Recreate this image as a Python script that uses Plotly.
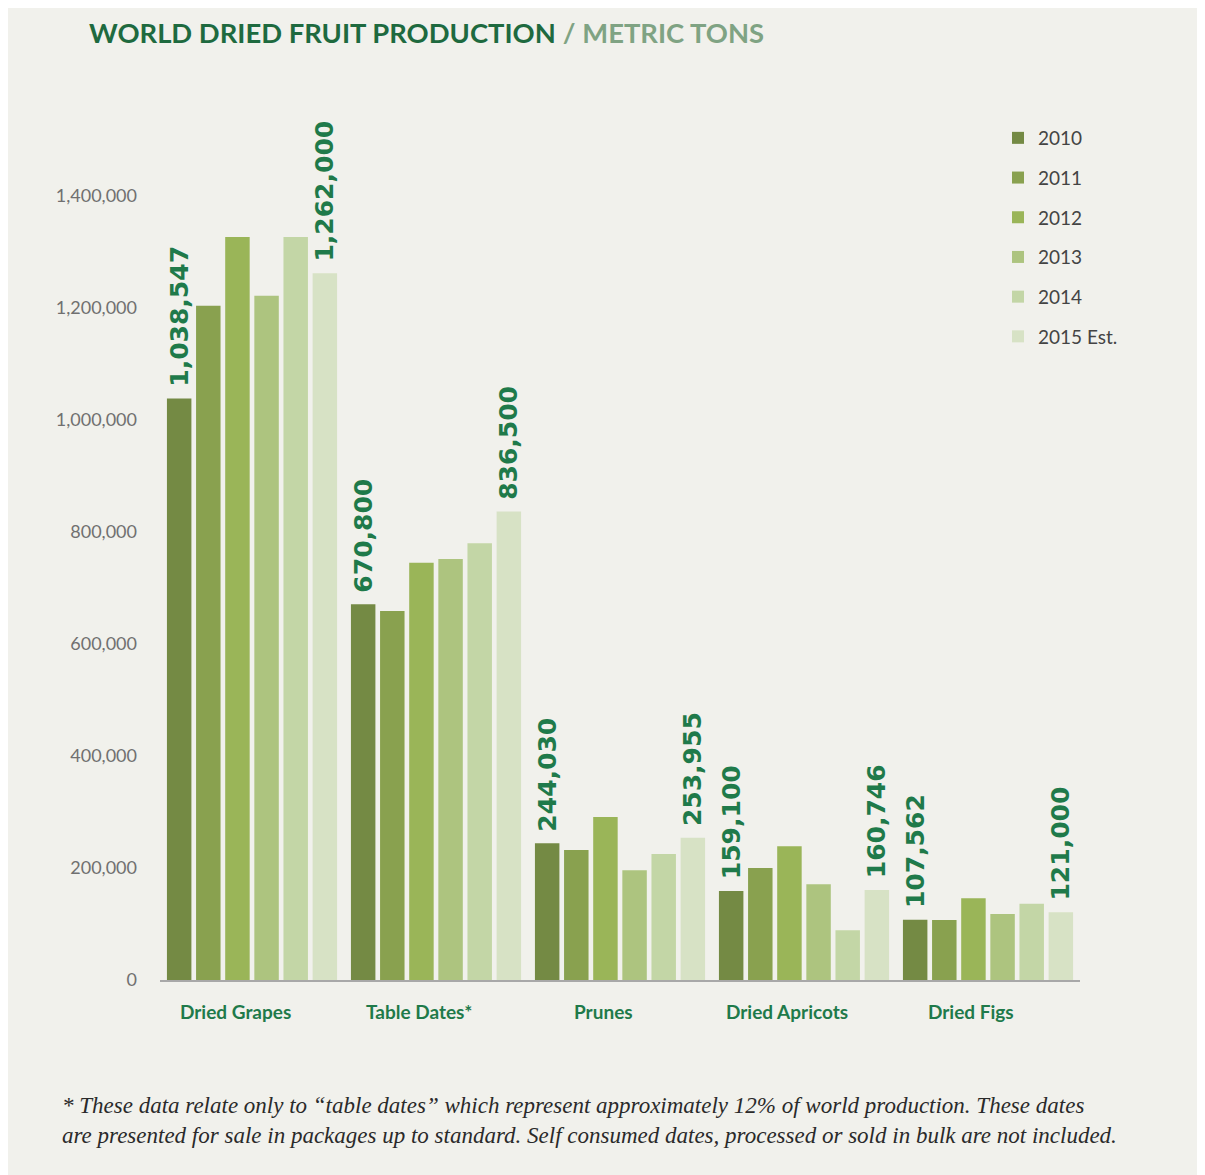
import plotly.graph_objects as go

categories = ["Dried Grapes", "Table Dates*", "Prunes", "Dried Apricots", "Dried Figs"]
years = ["2010", "2011", "2012", "2013", "2014", "2015 Est."]
v2010 = [1038547, 670800, 244030, 159100, 107562]
v2011 = [1204000, 659000, 232000, 200000, 107000]
v2012 = [1327000, 745000, 291000, 239000, 146000]
v2013 = [1222000, 752000, 196000, 171000, 118000]
v2014 = [1327000, 780000, 225000, 89000, 136000]
v2015 = [1262000, 836500, 253955, 160746, 121000]
series = [v2010, v2011, v2012, v2013, v2014, v2015]
colors = ["#748a44", "#89a14f", "#9ab558", "#adc47f", "#c3d6a6", "#d7e2c5"]
labelled = {0, 5}
y_ticks = [0, 200000, 400000, 600000, 800000, 1000000, 1200000, 1400000]

GREEN = "#1f7a4a"
L, T, PW, PH = 152, 76, 920, 896
W, H = 1197, 1167

fig = go.Figure()
for i, (yr, vals, col) in enumerate(zip(years, series, colors)):
    kw = {}
    if i in labelled:
        kw = dict(text=[f"<b>\u00a0{v:,}</b>" for v in vals], textposition="outside", textangle=-90,
                  outsidetextfont=dict(family="DejaVu Sans", size=25, color=GREEN),
                  constraintext="none", cliponaxis=False)
    fig.add_trace(go.Bar(name=yr, x=categories, y=vals, marker=dict(color=col, line=dict(width=0)),
                         legendgroup=yr, hoverinfo="skip", **kw))

for c in categories:
    fig.add_annotation(x=c, y=0, yref="y", xref="x", text=f"<b>{c}</b>", showarrow=False,
                       yshift=-31, xshift=-17, font=dict(family="Lato", size=19, color=GREEN))

fig.add_annotation(xref="paper", yref="paper", x=(79 - L) / PW, y=1.0 + (T - 24) / PH,
                   xanchor="left", yanchor="middle",
                   text="<b>WORLD DRIED FRUIT PRODUCTION</b> <span style='color:#7fa383'><b>/ METRIC TONS</b></span>",
                   showarrow=False, font=dict(family="Lato", size=27.4, color="#1e6a3f"))

foot = ("* These data relate only to “table dates” which represent approximately 12% of world production. These dates<br>"
        "are presented for sale in packages up to standard. Self consumed dates, processed or sold in bulk are not included.")
fig.add_annotation(xref="paper", yref="paper", x=(52 - L) / PW, y=-(1112 - (T + PH)) / PH,
                   xanchor="left", yanchor="middle",
                   text=f"<i>{foot}</i>", showarrow=False, align="left",
                   font=dict(family="Liberation Serif", size=23, color="#2a2a2a"))

fig.update_layout(
    width=W, height=H,
    margin=dict(l=L, r=W - L - PW, t=T, b=H - T - PH),
    paper_bgcolor="#f1f1ec", plot_bgcolor="#f1f1ec",
    barmode="group", bargap=0.05, bargroupgap=0.16,
    showlegend=True,
    legend=dict(x=(990 - L) / PW, y=1 - (111 - T) / PH, xanchor="left", yanchor="top",
                bgcolor="rgba(0,0,0,0)",
                font=dict(family="Lato", size=19, color="#444444"), tracegroupgap=12,
                itemwidth=30),
    xaxis=dict(showticklabels=False, showline=True, linecolor="#a8a8a8", linewidth=2,
               showgrid=False, zeroline=False, ticks=""),
    yaxis=dict(range=[0, 1600000], tickvals=y_ticks, ticktext=[f"{t:,}" for t in y_ticks],
               showgrid=False, zeroline=False, showline=False,
               tickfont=dict(family="Lato", size=18, color="#707070"), ticklabelstandoff=22),
    font=dict(family="Lato"),
)
fig.write_html("out.html")
